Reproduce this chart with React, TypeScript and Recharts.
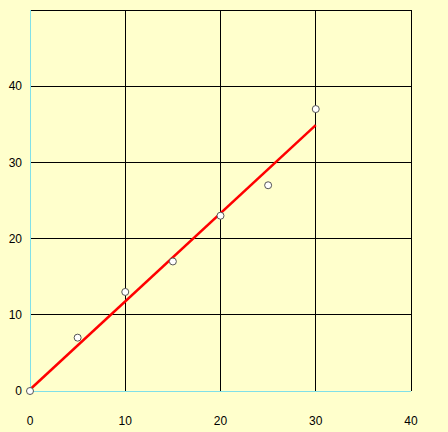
import { ComposedChart, Line, Scatter, XAxis, YAxis, CartesianGrid } from "recharts";

const BG = "#ffffcc";
const AXIS = "#80e0e8";
const FIT = "#ff0000";

const xValues = [0, 5, 10, 15, 20, 25, 30];
const yValues = [0, 7, 13, 17, 23, 27, 37];
const fitX = [0, 30];
const fitY = [0.2, 34.9];
const xTicks = [0, 10, 20, 30, 40];
const yTicks = [0, 10, 20, 30, 40, 50];

const points = xValues.map((x, i) => ({ x, y: yValues[i] }));
const fitLine = fitX.map((x, i) => ({ x, y: fitY[i] }));

const tickStyle = { fontSize: 12, fill: "#000", fontFamily: "Liberation Sans, Arial, sans-serif" };

function Dot(props: any) {
  const { cx, cy } = props;
  return <circle cx={cx} cy={cy} r={3.5} fill="#fff" stroke="#555" strokeWidth={1} />;
}

export default function App() {
  return (
    <div style={{ position: "absolute", left: 0, top: 0, width: 448, height: 432, background: BG }}>
      <ComposedChart width={448} height={432} margin={{ top: 10, right: 37, left: 0, bottom: 0 }}>
        <CartesianGrid stroke="#000" strokeWidth={1} shapeRendering="crispEdges" />
        <XAxis
          type="number"
          dataKey="x"
          domain={[0, 40]}
          ticks={xTicks}
          height={41}
          tick={tickStyle}
          tickLine={false}
          tickSize={0}
          tickMargin={25}
          axisLine={{ stroke: AXIS, shapeRendering: "crispEdges" }}
        />
        <YAxis
          type="number"
          dataKey="y"
          domain={[0, 50]}
          ticks={yTicks}
          width={30}
          tick={tickStyle}
          tickLine={false}
          tickSize={0}
          tickMargin={8}
          axisLine={{ stroke: AXIS, shapeRendering: "crispEdges" }}
          tickFormatter={(v) => (v === 50 ? "" : String(v))}
        />
        <Line
          data={fitLine}
          dataKey="y"
          stroke={FIT}
          strokeWidth={2.5}
          dot={false}
          activeDot={false}
          isAnimationActive={false}
        />
        <Scatter data={points} dataKey="y" shape={<Dot />} isAnimationActive={false} />
      </ComposedChart>
    </div>
  );
}
